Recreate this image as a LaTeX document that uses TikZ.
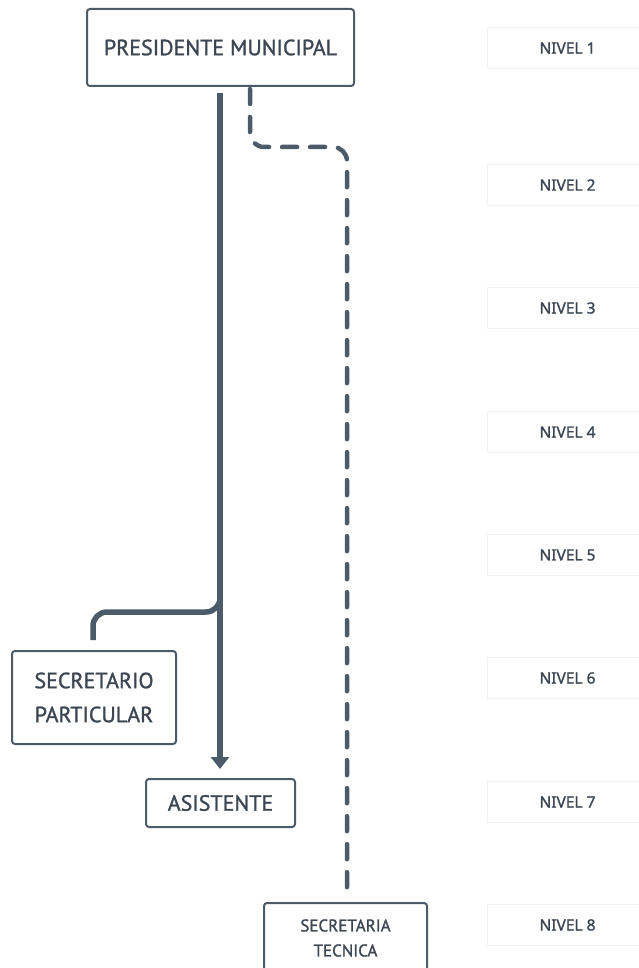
\documentclass[tikz,border=0pt]{standalone}
\usepackage{fontspec}
\usetikzlibrary{arrows.meta}
\newfontfamily\orgfont[FakeBold=1.2]{PT Sans}
\newfontfamily\lvlfont[FakeBold=1.2]{Noto Sans}
\definecolor{ink}{HTML}{3B4652}
\definecolor{edge}{HTML}{4B5B69}
\definecolor{lvledge}{HTML}{F1F2F3}
\begin{document}
\begin{tikzpicture}[x=1pt,y=-1pt,
  unit/.style={draw=edge,line width=2pt,rounded corners=3pt,fill=white,
    text=ink,align=center,inner sep=0pt,font=\orgfont\fontsize{22}{34}\selectfont},
  level/.style={draw=lvledge,line width=1pt,fill=white,minimum width=161pt,
    minimum height=41pt,inner sep=0pt,text=ink,font=\lvlfont\fontsize{15.5}{18}\selectfont},
  solidlink/.style={draw=edge,line width=5.5pt,rounded corners=14pt},
  dashlink/.style={draw=edge,line width=4.5pt,line cap=round,
    dash pattern=on 15pt off 13pt,rounded corners=14pt}]
\useasboundingbox (0,0) rectangle (639,968);
\clip (0,0) rectangle (639,968);

% level markers on the right
\foreach \n/\yy in {1/48,2/185,3/308,4/432,5/555,6/678,7/802,8/925}
  \node[level] (lvl\n) at (567.5,\yy) {NIVEL \n};

% units
\node[unit,minimum width=267pt,minimum height=77pt] (pres) at (220.5,47.5) {PRESIDENTE MUNICIPAL};
\node[unit,minimum width=164pt,minimum height=93pt] (sec) at (94,697.5) {SECRETARIO\\PARTICULAR};
\node[unit,minimum width=149pt,minimum height=48pt] (asis) at (220.5,803) {ASISTENTE};
\node[unit,minimum width=163pt,minimum height=70pt,
  font=\orgfont\fontsize{17}{25}\selectfont] (tec) at (345.5,938) {SECRETARIA\\TECNICA};

% reporting lines (canvas y points up, so a positive yshift lifts the end above a box)
\coordinate (trunk) at (220,93);
\coordinate (fork) at (220,590);
\coordinate (dstart) at (250,89);
\draw[solidlink,-{Triangle[width=18pt,length=12pt]},rounded corners=0pt,
  shorten >=9pt] (trunk) -- (trunk |- asis.north);
\draw[solidlink] (fork) -- (220,612) -- (93,612) -- ([yshift=10pt]sec.north -| 93,0);
\draw[dashlink] (dstart) -- (250,147) -- (347,147) -- ([yshift=10pt]tec.north -| 347,0);
\end{tikzpicture}
\end{document}
